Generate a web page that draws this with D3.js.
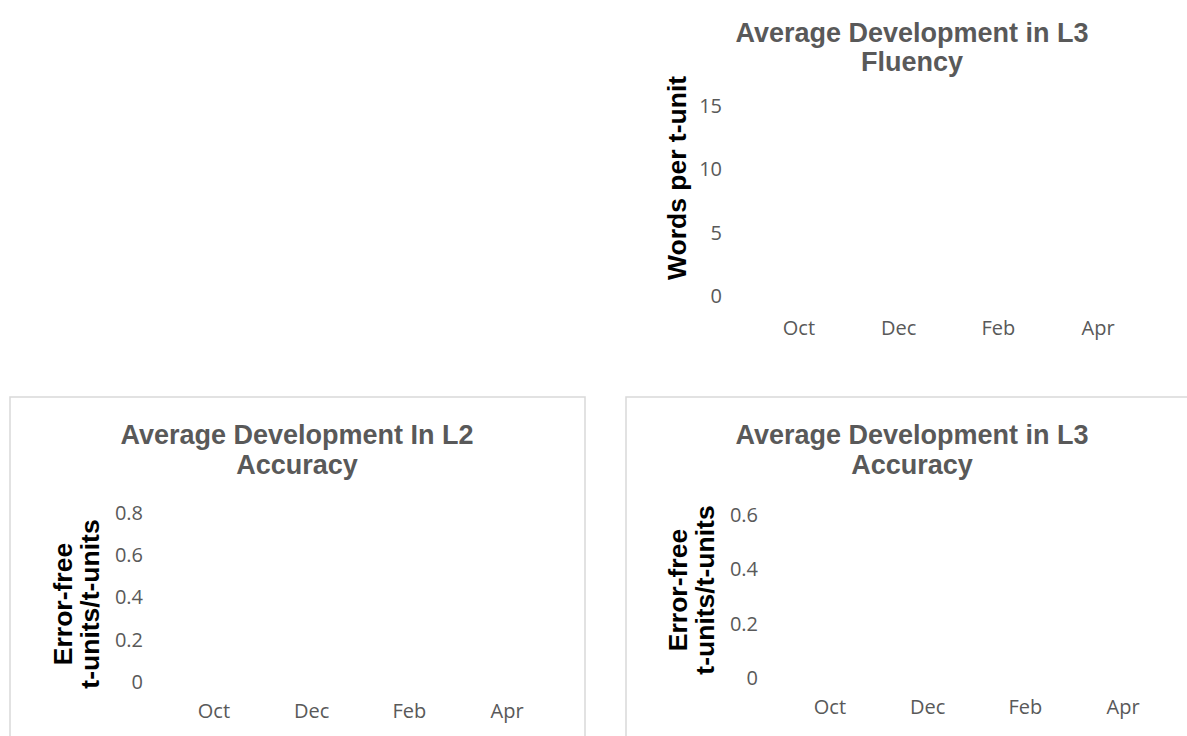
<!DOCTYPE html>
<html>
<head>
<meta charset="utf-8">
<script src="https://cdn.jsdelivr.net/npm/d3@7"></script>
<style>
  html, body { margin: 0; padding: 0; background: #ffffff; }
  svg { display: block; }
</style>
</head>
<body>
<svg id="chart" width="1187" height="736"></svg>
<script>
// ---- data (the charts show no plotted values) ----
const months = ["Oct", "Dec", "Feb", "Apr"];

const fluencyL3Title = ["Average Development in L3", "Fluency"];
const fluencyL3YTitle = ["Words per t-unit"];
const fluencyL3Ticks = [0, 5, 10, 15];
const fluencyL3Values = [null, null, null, null];

const accuracyL2Title = ["Average Development In L2", "Accuracy"];
const accuracyL2YTitle = ["Error-free", "t-units/t-units"];
const accuracyL2Ticks = [0, 0.2, 0.4, 0.6, 0.8];
const accuracyL2Values = [null, null, null, null];

const accuracyL3Title = ["Average Development in L3", "Accuracy"];
const accuracyL3YTitle = ["Error-free", "t-units/t-units"];
const accuracyL3Ticks = [0, 0.2, 0.4, 0.6];
const accuracyL3Values = [null, null, null, null];

// ---- layout ----
const svg = d3.select("#chart");
const TITLE_FONT = "'Liberation Sans', Arial, sans-serif";
const TICK_FONT = "'Open Sans', 'Liberation Sans', sans-serif";

function drawPanel(p) {
  const g = svg.append("g");
  if (p.frame) {
    g.append("rect")
      .attr("x", p.frame[0]).attr("y", p.frame[1])
      .attr("width", p.frame[2]).attr("height", p.frame[3])
      .attr("fill", "none").attr("stroke", "#d9d9d9").attr("stroke-width", 1.5);
  }
  // title
  const t = g.append("text")
    .attr("text-anchor", "middle")
    .attr("font-family", TITLE_FONT).attr("font-weight", "bold")
    .attr("font-size", 27).attr("fill", "#595959");
  p.title.forEach((line, i) => {
    t.append("tspan").attr("x", p.titleX).attr("y", p.titleY + i * p.titleLH).text(line);
  });

  const x = d3.scaleBand().domain(months).range(p.xRange);
  const y = d3.scaleLinear().domain([0, d3.max(p.ticks)]).range(p.yRange);

  // y axis (labels only, no line, no ticks)
  const yAxis = g.append("g")
    .attr("transform", `translate(${p.xRange[0]},0)`)
    .call(d3.axisLeft(y).tickValues(p.ticks).tickSize(0).tickPadding(p.yPad)
      .tickFormat(d => d === 0 ? "0" : String(d)));
  yAxis.select(".domain").remove();
  yAxis.selectAll("text")
    .attr("font-family", TICK_FONT).attr("font-size", 20).attr("fill", "#595959");

  // x axis (labels only)
  const xAxis = g.append("g")
    .attr("transform", `translate(0,${p.yRange[0]})`)
    .call(d3.axisBottom(x).tickSize(0).tickPadding(p.xPad));
  xAxis.select(".domain").remove();
  xAxis.selectAll("text")
    .attr("font-family", TICK_FONT).attr("font-size", 20).attr("fill", "#595959");

  // series (no values present in the reference)
  const line = d3.line()
    .defined(d => d.v != null)
    .x(d => x(d.m) + x.bandwidth() / 2)
    .y(d => y(d.v));
  g.append("path")
    .datum(months.map((m, i) => ({ m, v: p.values[i] })))
    .attr("fill", "none").attr("stroke", "#4472c4").attr("stroke-width", 2.5)
    .attr("d", line);

  // y title
  const yt = g.append("text")
    .attr("transform", `rotate(-90)`)
    .attr("text-anchor", "middle")
    .attr("font-family", TITLE_FONT).attr("font-weight", "bold")
    .attr("font-size", 26.5).attr("fill", "#000000");
  p.yTitle.forEach((line, i) => {
    yt.append("tspan").attr("x", -p.yTitleCY).attr("y", p.yTitleX + i * 27).text(line);
  });
}

drawPanel({
  frame: null,
  title: fluencyL3Title, titleX: 912, titleY: 42, titleLH: 29,
  ticks: fluencyL3Ticks, values: fluencyL3Values,
  xRange: [749, 1148], yRange: [296, 106], yPad: 27, xPad: 25,
  yTitle: fluencyL3YTitle, yTitleX: 686, yTitleCY: 178
});

drawPanel({
  frame: [10, 397, 575, 400],
  title: accuracyL2Title, titleX: 297, titleY: 444, titleLH: 30,
  ticks: accuracyL2Ticks, values: accuracyL2Values,
  xRange: [165, 556], yRange: [682, 513], yPad: 22, xPad: 22,
  yTitle: accuracyL2YTitle, yTitleX: 72, yTitleCY: 604
});

drawPanel({
  frame: [626, 397, 575, 400],
  title: accuracyL3Title, titleX: 912, titleY: 444, titleLH: 30,
  ticks: accuracyL3Ticks, values: accuracyL3Values,
  xRange: [781, 1172], yRange: [678, 515], yPad: 23, xPad: 22,
  yTitle: accuracyL3YTitle, yTitleX: 687, yTitleCY: 590
});
</script>
</body>
</html>
